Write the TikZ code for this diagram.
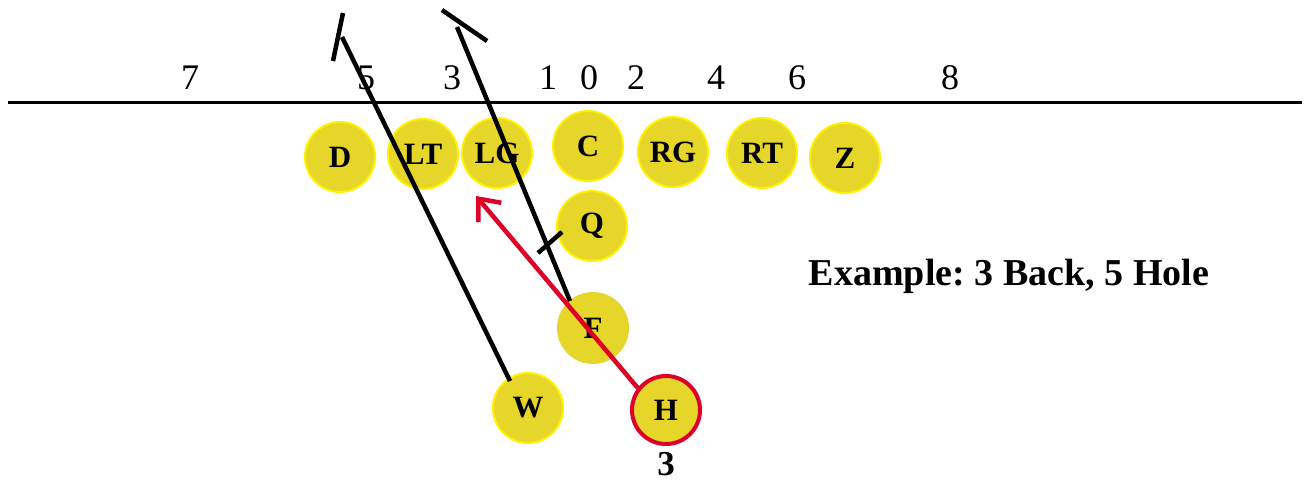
\documentclass[tikz,border=0pt]{standalone}
\usepackage{fontspec}
\setmainfont{Liberation Serif}
\usetikzlibrary{arrows.meta}
\definecolor{pfill}{RGB}{229,214,41}
\definecolor{pedge}{RGB}{255,242,0}
\definecolor{pred}{RGB}{222,0,38}
\frenchspacing
\tikzset{
  player/.style={circle, fill=pfill, draw=pedge, line width=2pt, minimum size=70pt, inner sep=0pt, font=\fontsize{31}{31}\selectfont\bfseries},
  hole/.style={font=\fontsize{36}{36}\selectfont, inner sep=0pt},
  route/.style={line width=4.5pt, draw=black},
  redroute/.style={line width=4.5pt, draw=pred, -{Straight Barb[length=18pt,width=30pt,line width=4.5pt]}}
}
\begin{document}
\begin{tikzpicture}[x=1pt,y=-1pt]
\useasboundingbox (0,0) rectangle (1305,483);
% line of scrimmage
\coordinate (losL) at (8,102);
\coordinate (losR) at (1302,102);
\draw[line width=3pt] (losL) -- (losR);
% hole numbers
\foreach \n/\x in {7/190,5/366,3/452,1/548,0/589,2/636,4/716,6/797,8/950}
  \node[hole] (h\n) at (\x,78) {\n};
% players
\node[player] (D) at (340,157) {D};
\node[player] (LT) at (423,154) {LT};
\node[player] (LG) at (497,153) {LG};
\node[player] (C) at (588,146) {C};
\node[player] (RG) at (673,152) {RG};
\node[player] (RT) at (762,153) {RT};
\node[player] (Z) at (845,158) {Z};
\node[player] (Q) at (592,226) {Q};
\node[player, draw=none, minimum size=72pt] (F) at (593,328) {F};
\node[player] (W) at (528,408) {W};
\node[player, draw=pred, line width=4pt, minimum size=68pt] (H) at (666,410) {H};
\node[font=\fontsize{35}{35}\selectfont\bfseries, inner sep=0pt, anchor=base] (lab3) at (666,475) {3};
\node[font=\fontsize{38}{38}\selectfont\bfseries, inner sep=0pt] (ex) at (1009,276) {Example: 3 Back, 5 Hole};
% routes
\coordinate (wEnd) at (342,37);
\coordinate (wT1) at (333,61);
\coordinate (wT2) at (343,13);
\draw[route] (510,381) -- (wEnd);
\draw[route] (wT1) -- (wT2);
\coordinate (fEnd) at (457,27);
\coordinate (fT1) at (442,10);
\coordinate (fT2) at (487,41);
\draw[route] (570,301) -- (fEnd);
\draw[route] (fT1) -- (fT2);
\coordinate (bT1) at (538,253);
\coordinate (bT2) at (562,232);
\draw[route] (bT1) -- (bT2);
\coordinate (rEnd) at (476,196);
\draw[redroute] (H.142) -- (rEnd);
\end{tikzpicture}
\end{document}
